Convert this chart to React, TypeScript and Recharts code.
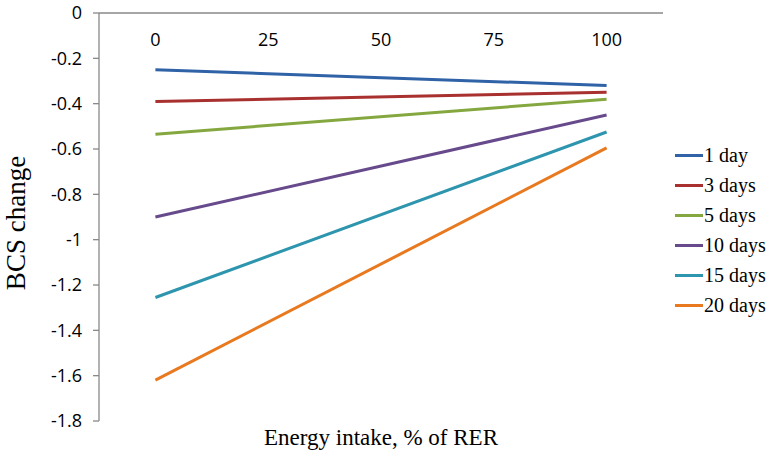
import { LineChart, Line, XAxis, YAxis, Legend } from "recharts";

// energy intake, % of RER (x) and BCS change (y) at the two ends of each line
const INTAKE = [0, 100];
const X_TICKS = [0, 25, 50, 75, 100];
const Y_TICKS = [0, -0.2, -0.4, -0.6, -0.8, -1, -1.2, -1.4, -1.6, -1.8];

const SERIES_NAMES = ["1 day", "3 days", "5 days", "10 days", "15 days", "20 days"];
const SERIES_COLORS = ["#2F62A6", "#A8302E", "#84A83F", "#674A8C", "#2E95AE", "#E8791F"];
const BCS_AT_0 = [-0.25, -0.39, -0.535, -0.9, -1.255, -1.62];
const BCS_AT_100 = [-0.32, -0.35, -0.38, -0.45, -0.525, -0.595];

const data = INTAKE.map((intake, i) => {
  const row: Record<string, number> = { intake };
  SERIES_NAMES.forEach((name, s) => {
    row[name] = i === 0 ? BCS_AT_0[s] : BCS_AT_100[s];
  });
  return row;
});

const axisGrey = "#898989";
const tickFont = { fontFamily: "Open Sans", fontSize: 18, fill: "#000" };
const serif = "Liberation Serif";

function LegendList() {
  return (
    <div style={{ fontFamily: serif, fontSize: 20, color: "#000" }}>
      {SERIES_NAMES.map((name, i) => (
        <div key={name} style={{ display: "flex", alignItems: "center", height: 30 }}>
          <span
            style={{
              display: "inline-block",
              width: 28,
              height: 3,
              background: SERIES_COLORS[i],
              marginRight: 1,
            }}
          />
          <span>{name}</span>
        </div>
      ))}
    </div>
  );
}

// rotated y title, a little below the middle of the axis box as in the original
function YTitle({ viewBox }: any) {
  const x = viewBox.x + 16;
  const y = viewBox.y + viewBox.height / 2 + 6;
  return (
    <text
      x={x}
      y={y}
      transform={`rotate(-90, ${x}, ${y})`}
      textAnchor="middle"
      dominantBaseline="central"
      fontFamily={serif}
      fontSize={27}
      fill="#000"
    >
      BCS change
    </text>
  );
}

export default function App() {
  return (
    <div style={{ position: "absolute", left: 0, top: 0, width: 772, height: 455, background: "#fff" }}>
      <LineChart width={772} height={455} data={data} margin={{ top: 13, right: 109, bottom: 0, left: 0 }}>
        <XAxis
          dataKey="intake"
          type="number"
          orientation="top"
          mirror
          domain={[-12.5, 112.5]}
          ticks={X_TICKS}
          tickLine={false}
          axisLine={{ stroke: axisGrey, strokeWidth: 1.3 }}
          tick={tickFont}
          tickMargin={14}
        />
        <XAxis
          xAxisId="title"
          dataKey="intake"
          type="number"
          orientation="bottom"
          domain={[-12.5, 112.5]}
          height={34}
          tick={false}
          tickLine={false}
          axisLine={false}
          label={{
            value: "Energy intake, % of RER",
            position: "insideBottom",
            offset: 10,
            fontFamily: serif,
            fontSize: 23,
            fill: "#000",
          }}
        />
        <YAxis
          type="number"
          domain={[-1.8, 0]}
          ticks={Y_TICKS}
          width={99}
          tickSize={6}
          tickMargin={11}
          tickLine={{ stroke: axisGrey, strokeWidth: 1.3 }}
          axisLine={{ stroke: axisGrey, strokeWidth: 1.3 }}
          tick={tickFont}
          label={{ content: YTitle }}
        />
        <Legend
          layout="vertical"
          align="center"
          verticalAlign="middle"
          content={() => <LegendList />}
          wrapperStyle={{ left: 675, top: 140, width: 97 }}
        />
        {SERIES_NAMES.map((name, i) => (
          <Line
            key={name}
            dataKey={name}
            stroke={SERIES_COLORS[i]}
            strokeWidth={3}
            dot={false}
            activeDot={false}
            isAnimationActive={false}
          />
        ))}
      </LineChart>
    </div>
  );
}
